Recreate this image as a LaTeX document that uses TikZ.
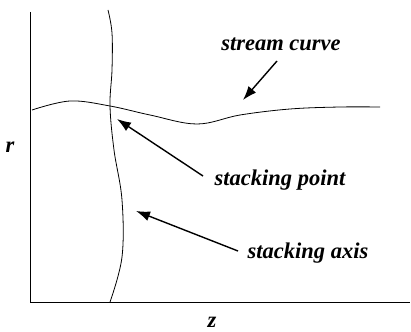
\documentclass[tikz,border=0pt]{standalone}
\usepackage{fontspec}
\setmainfont{Liberation Serif}
\usetikzlibrary{arrows.meta}
\begin{document}
\begin{tikzpicture}[x=1pt,y=-1pt,
  lbl/.style={font=\fontsize{22.5}{26}\selectfont\bfseries\itshape, inner sep=0pt},
  ptr/.style={line width=1.4pt, -{Latex[length=14pt,width=10pt]}},
  crv/.style={line width=0.8pt}]
\useasboundingbox (0,0) rectangle (411,331);
% axes
\coordinate (o) at (30,302);
\coordinate (ytop) at (30,12);
\coordinate (xend) at (410,302);
\draw[line width=1pt] (ytop) -- (o) -- (xend);
% stacking axis
\draw[crv] plot[smooth, tension=0.6] coordinates {(108,10) (112,33) (112,70) (110,106) (114,150) (122,200) (122,257) (110,302)};
% stream curve
\draw[crv] plot[smooth, tension=0.6] coordinates {(32,110) (70,101) (110,106) (150,115) (197,124) (240,115) (290,109) (340,107) (380,107)};
% labels
\node[lbl] (sc) at (281,44) {stream curve};
\node[lbl] (sp) at (280,180) {stacking point};
\node[lbl] (sa) at (308,253) {stacking axis};
\node[lbl] (r) at (10,147) {r};
\node[lbl] (z) at (212,322) {z};
% arrows
\coordinate (scs) at (277,61);
\coordinate (sce) at (243,100);
\coordinate (sps) at (203,176);
\coordinate (spe) at (117,119);
\coordinate (sas) at (238,251);
\coordinate (sae) at (136,211);
\draw[ptr] (scs) -- (sce);
\draw[ptr] (sps) -- (spe);
\draw[ptr] (sas) -- (sae);
\end{tikzpicture}
\end{document}
